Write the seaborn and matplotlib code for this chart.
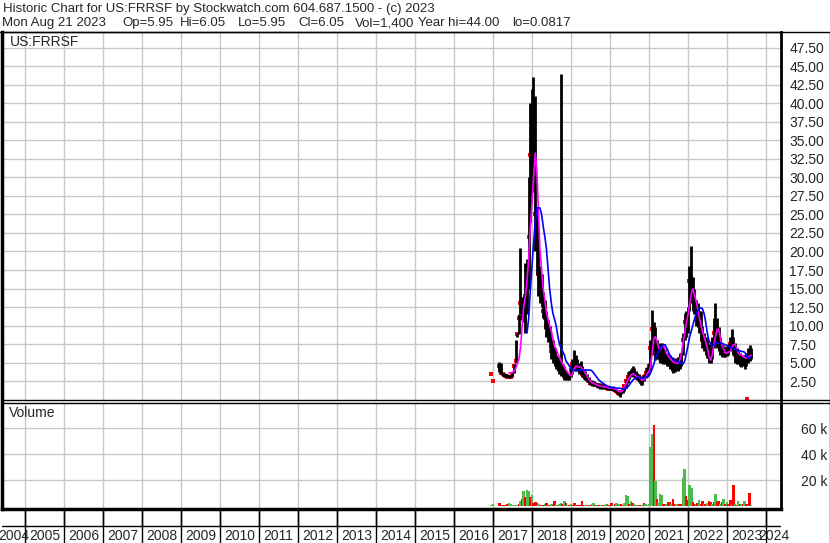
import numpy as np
import pandas as pd
import matplotlib.pyplot as plt
import seaborn as sns
from matplotlib.lines import Line2D

nan = np.nan

# semi-monthly sampling (1st and 15th), Dec 15 2016 .. Aug 15 2023
dates = pd.date_range("2016-12-15", "2023-08-15", freq="SMS")

high = ([3.4]
    + [2.5, nan, nan, nan, 5.1, 5.0, 3.6, 3.5, 3.4, 3.4, 3.3, 3.3, 3.6, 4.8, 8.0, 9.0, 11.6, 20.5, 13.8, 14.0, 18.5, 19.0, 30.0, 40.0]
    + [42.0, 43.6, 41.0, 26.0, 23.0, 18.0, 17.0, 14.5, 13.5, 12.0, 10.8, 10.0, 8.4, 8.0, 7.0, 6.0, 5.8, 5.5, 44.0, 4.8, 4.5, 3.8, 3.6, 3.5]
    + [4.5, 5.5, 6.7, 6.0, 5.5, 5.0, 5.2, 4.5, 4.1, 3.8, 3.5, 3.0, 2.6, 2.6, 2.5, 2.4, 2.3, 2.2, 2.2, 2.1, 2.0, 2.0, 1.9, 1.8]
    + [1.8, 1.7, 1.8, 1.6, 1.5, 1.3, 1.1, 1.2, 1.6, 2.0, 2.8, 3.3, 3.8, 4.2, 4.5, 4.3, 3.8, 3.6, 3.4, 3.2, 3.0, 3.5, 4.0, 4.4]
    + [5.0, 8.0, 12.1, 10.5, 9.8, 8.0, 7.5, 7.6, 7.6, 7.2, 6.8, 6.3, 6.3, 6.0, 5.8, 5.6, 5.6, 5.5, 5.8, 6.3, 6.3, 9.0, 11.7, 12.0]
    + [12.5, 18.0, 20.7, 16.6, 15.0, 13.5, 13.0, 12.0, 12.0, 10.0, 9.0, 8.5, 8.0, 7.5, 7.0, 8.5, 11.0, 13.0, 11.0, 9.8, 8.5, 7.5, 7.2, 7.0]
    + [7.2, 7.5, 8.5, 9.5, 8.5, 7.6, 7.0, 6.5, 6.3, 6.0, 6.0, 6.0, 6.3, 7.0, 7.4, 7.0])

low = ([3.4]
    + [2.5, nan, nan, nan, 3.7, 3.5, 3.2, 3.1, 3.0, 3.0, 2.9, 3.0, 3.0, 3.6, 5.0, 8.4, 8.8, 11.5, 10.7, 10.5, 9.0, 11.5, 15.0, 24.0]
    + [28.0, 30.0, 20.0, 17.0, 14.0, 13.0, 12.5, 11.0, 9.5, 8.5, 7.8, 7.0, 5.5, 5.0, 4.5, 4.2, 3.8, 3.5, 3.2, 3.0, 2.6, 2.6, 2.6, 2.6]
    + [3.1, 3.5, 3.8, 4.0, 3.8, 3.5, 3.4, 3.0, 2.8, 2.6, 2.4, 2.2, 2.0, 1.9, 1.8, 1.8, 1.7, 1.6, 1.5, 1.5, 1.5, 1.4, 1.4, 1.3]
    + [1.3, 1.3, 1.2, 1.1, 0.9, 0.6, 0.4, 0.7, 0.9, 1.2, 1.6, 2.2, 2.8, 3.0, 3.2, 3.0, 2.8, 2.6, 2.4, 2.0, 2.0, 2.5, 2.9, 3.1]
    + [3.5, 4.0, 6.0, 6.5, 5.3, 5.5, 5.3, 5.0, 5.0, 4.8, 4.8, 4.5, 4.5, 4.2, 3.8, 3.6, 3.7, 4.0, 3.8, 4.2, 4.5, 6.0, 8.0, 8.5]
    + [9.0, 12.0, 13.0, 12.0, 11.5, 10.0, 10.0, 9.0, 8.0, 7.0, 6.5, 6.0, 5.6, 5.0, 5.0, 5.5, 7.0, 8.0, 7.0, 6.5, 6.0, 5.8, 5.8, 5.8]
    + [5.9, 6.0, 6.5, 6.7, 6.0, 5.0, 4.8, 4.8, 4.5, 4.4, 4.5, 4.2, 4.5, 5.0, 5.2, 5.5])

close = ([3.4]
    + [2.5, nan, nan, nan, 4.6, 3.6, 3.4, 3.3, 3.2, 3.1, 3.0, 3.1, 3.3, 4.6, 5.2, 8.9, 11.0, 13.0, 12.0, 11.5, 14.0, 16.0, 22.0, 33.0]
    + [35.0, 38.0, 25.0, 21.0, 17.0, 15.0, 14.0, 12.0, 11.0, 10.0, 9.0, 8.0, 6.5, 6.0, 5.2, 5.0, 4.5, 4.2, 4.0, 3.8, 3.2, 3.0, 3.0, 3.1]
    + [4.0, 4.8, 5.0, 4.5, 4.4, 4.5, 4.2, 3.5, 3.2, 3.0, 2.8, 2.5, 2.3, 2.2, 2.1, 2.0, 2.0, 1.9, 1.8, 1.8, 1.7, 1.7, 1.6, 1.5]
    + [1.5, 1.5, 1.5, 1.3, 1.2, 0.9, 0.8, 1.0, 1.3, 1.8, 2.5, 3.0, 3.5, 3.6, 4.0, 3.5, 3.2, 3.0, 2.8, 2.4, 2.6, 3.0, 3.6, 4.0]
    + [4.5, 7.0, 9.5, 8.0, 7.0, 6.5, 6.2, 6.8, 7.0, 6.5, 5.8, 5.5, 5.2, 5.0, 4.6, 4.5, 4.8, 4.8, 4.6, 5.5, 5.8, 8.0, 10.5, 11.0]
    + [11.5, 16.0, 16.5, 14.0, 13.0, 12.0, 11.0, 10.0, 9.5, 8.0, 7.5, 7.0, 6.5, 5.8, 5.5, 7.5, 9.0, 10.0, 8.5, 7.5, 6.8, 6.3, 6.3, 6.4]
    + [6.5, 6.8, 7.5, 8.0, 7.0, 6.0, 5.8, 5.5, 5.3, 5.0, 5.2, 5.0, 5.5, 6.0, 6.2, 6.05])

# short moving average (magenta)
ma_short = ([nan]
    + [nan, nan, nan, nan, nan, nan, nan, nan, nan, nan, 3.6, 3.6, 3.7, 3.8, 4.2, 4.8, 5.5, 7.0, 10.0, 12.5, 14.0, 16.0, 19.0, 23.0]
    + [26.5, 30.0, 33.3, 31.0, 26.0, 20.5, 17.5, 15.0, 13.5, 11.8, 10.8, 10.0, 9.3, 8.2, 7.2, 6.8, 6.2, 5.7, 5.2, 4.8, 4.4, 4.0, 3.7, 3.4]
    + [3.2, 3.5, 4.2, 4.5, 4.5, 4.4, 4.4, 4.2, 3.9, 3.6, 3.2, 2.8, 2.5, 2.3, 2.2, 2.1, 2.0, 1.9, 1.8, 1.8, 1.75, 1.7, 1.7, 1.6]
    + [1.6, 1.55, 1.5, 1.45, 1.4, 1.2, 1.05, 1.05, 1.3, 1.7, 2.2, 2.6, 3.0, 3.3, 3.5, 3.4, 3.2, 3.1, 3.0, 2.8, 2.6, 2.7, 3.0, 3.5]
    + [3.8, 4.5, 6.5, 8.2, 8.5, 8.0, 7.0, 6.7, 7.2, 7.3, 6.8, 6.2, 5.9, 5.6, 5.3, 5.1, 5.0, 4.9, 4.9, 5.3, 6.2, 7.6, 9.0, 10.2]
    + [11.5, 12.8, 14.3, 15.0, 14.2, 13.5, 12.3, 11.2, 10.2, 9.3, 8.5, 7.8, 7.0, 6.0, 5.3, 6.0, 7.5, 8.5, 9.5, 9.5, 8.3, 7.3, 6.8, 6.3]
    + [6.3, 6.4, 6.6, 7.0, 7.4, 7.5, 7.0, 6.3, 6.1, 6.0, 5.8, 5.7, 5.6, 5.7, 5.9, 6.0])

# long moving average (blue)
ma_long = ([nan]
    + [nan] * 21 + [9.0, 11.0, 14.5]
    + [18.0, 21.0, 24.0, 25.9, 25.9, 25.9, 25.0, 23.5, 22.0, 20.5, 17.5, 15.0, 13.0, 11.7, 10.8, 10.0, 8.5, 7.5, 6.9, 6.5, 6.0, 5.2, 4.9, 4.6]
    + [4.2, 4.0, 4.0, 3.9, 3.9, 4.0, 4.0, 4.0, 4.0, 4.0, 4.0, 4.0, 4.0, 3.9, 3.6, 3.3, 3.0, 2.7, 2.5, 2.3, 2.2, 2.0, 1.9, 1.8]
    + [1.7, 1.65, 1.6, 1.6, 1.55, 1.55, 1.55, 1.5, 1.45, 1.4, 1.5, 1.7, 2.0, 2.3, 2.6, 2.8, 2.9, 3.0, 3.0, 2.9, 2.9, 3.0, 3.0, 3.1]
    + [3.2, 3.6, 4.2, 4.8, 5.5, 6.0, 6.5, 6.9, 7.2, 7.4, 7.4, 7.0, 6.5, 6.0, 5.7, 5.5, 5.3, 5.2, 5.1, 5.0, 4.9, 4.8, 5.2, 6.1]
    + [7.3, 8.4, 9.3, 10.0, 10.8, 11.5, 12.0, 12.3, 12.4, 12.3, 11.6, 10.5, 9.0, 8.0, 7.5, 7.3, 7.4, 7.6, 7.6, 7.6, 7.6, 7.6, 7.5, 7.4]
    + [7.3, 7.2, 7.1, 7.0, 6.9, 6.8, 6.7, 6.6, 6.6, 6.5, 6.5, 6.4, 6.0, 5.6, 5.7, 5.8])

# volume in thousands of shares, g = up day, r = down day
volume = ([1.0]
    + [1.5, 0.5, 0, 0, 2.5, 1.0, 0.8, 1.2, 0.8, 1.5, 2.5, 1.5, 1.0, 1.0, 1.2, 1.0, 2.0, 4.0, 6.0, 11.8, 7.4, 12.5, 12.0, 7.0]
    + [8.7, 2.3, 3.0, 2.3, 1.5, 1.0, 1.2, 0.8, 1.5, 2.3, 1.0, 0.8, 1.5, 1.0, 4.0, 1.2, 1.0, 1.8, 2.3, 1.5, 4.0, 2.3, 1.0, 1.0]
    + [1.5, 1.0, 2.5, 1.0, 0.8, 1.0, 1.0, 4.0, 1.0, 0.8, 1.0, 1.2, 1.0, 1.5, 2.5, 1.2, 1.0, 0.8, 0.8, 1.0, 0.8, 1.0, 1.5, 1.0]
    + [1.2, 2.5, 1.0, 1.5, 2.5, 1.2, 2.0, 1.5, 1.0, 2.3, 9.0, 8.0, 2.0, 4.0, 2.5, 2.0, 0.8, 1.0, 1.2, 0.8, 1.0, 2.5, 1.5, 1.0]
    + [2.0, 45.9, 55.6, 62.5, 19.5, 6.0, 2.5, 9.5, 8.7, 2.0, 1.5, 2.0, 3.5, 3.5, 1.5, 5.8, 2.0, 2.0, 1.5, 2.0, 1.5, 21.5, 28.7, 8.0]
    + [5.0, 16.4, 14.3, 3.0, 1.5, 2.0, 2.5, 4.8, 2.0, 4.0, 1.5, 1.5, 2.5, 4.0, 3.0, 1.5, 3.0, 9.5, 3.5, 4.5, 2.0, 3.0, 5.6, 2.0]
    + [3.0, 2.0, 4.8, 2.0, 16.4, 2.0, 1.0, 4.5, 2.0, 1.5, 2.0, 4.0, 2.0, 1.0, 10.3, 1.4])
vol_dir = ("g"
    + "ggggrrrrrrggggggrgrgrggr"
    + "grrrggrrgrgrgrrgrggrgrgr"
    + "grrgrrrrrgrgrggrgrrgrggr"
    + "rrgrgrgrrgggrgrgrgrrgrgg"
    + "gggrgrgggrrgrrgrrggrrggr"
    + "rggrrgrgrrgrgrrgrgrrgrgr"
    + "grrgrgrgrgrgrgrg")

# single bad print at the year low
odd_date = pd.to_datetime(["2023-07-10"])
odd_price = [0.0817]

years = list(range(2004, 2025))
price_ticks = [2.5 * i for i in range(1, 20)]
vol_ticks = [20, 40, 60]

header1 = "Historic Chart for US:FRRSF by Stockwatch.com 604.687.1500 - (c) 2023"
header2 = ["Mon Aug 21 2023", "Op=5.95", "Hi=6.05", "Lo=5.95", "Cl=6.05", "Vol=1,400", "Year hi=44.00", "lo=0.0817"]
header2_x = [2, 122, 180, 238, 298, 355, 418, 512]


def decimal_year(d):
    d = pd.DatetimeIndex(d)
    return d.year + (d.dayofyear - 1) / np.where(d.is_leap_year, 366, 365)


df = pd.DataFrame({"t": decimal_year(dates), "high": high, "low": low, "close": close,
                   "ma_short": ma_short, "ma_long": ma_long, "volume": volume,
                   "dir": list(vol_dir)})

sns.set_style("white")
plt.rcParams["font.family"] = ["Liberation Sans", "DejaVu Sans"]

W, H = 830, 543
fig = plt.figure(figsize=(W / 100, H / 100), dpi=100)
x0, x1 = 2004 + 16 / 39, 2024 + 15 / 39
grid_c = "#c8c8c8"

ax = fig.add_axes([2 / W, 143 / H, 779 / W, 368.5 / H])
axv = fig.add_axes([2 / W, 34 / H, 779 / W, 106 / H])
axl = fig.add_axes([2 / W, 0, 779 / W, 34 / H])

# ---- price panel
ax.set_xlim(x0, x1)
ax.set_ylim(-0.05, 49.7)
ax.set_axisbelow(True)
ax.set_xticks(years[1:])
ax.set_yticks(price_ticks)
ax.grid(True, color=grid_c, lw=1)
ax.yaxis.set_major_formatter("{x:.2f}")
ax.tick_params(left=False, labelleft=False, bottom=False, labelbottom=False,
               right=False, labelright=True, labelsize=10, pad=2.5)

ax.vlines(df["t"], df["low"], df["high"], color="black", lw=2.0)
sns.scatterplot(x=df["t"], y=df["close"], color="red", marker="s", s=8, linewidth=0, ax=ax)
sns.scatterplot(x=decimal_year(odd_date), y=odd_price, color="red", marker="s", s=6, linewidth=0, ax=ax)
sns.lineplot(x=df["t"], y=df["ma_short"], color="#ff00ff", lw=1.2, ax=ax)
sns.lineplot(x=df["t"], y=df["ma_long"], color="#0000ff", lw=1.2, ax=ax)
ax.set_xlabel("")
ax.set_ylabel("")
ax.text(8 / 779, 1 - 10 / 368.5, "US:FRRSF", transform=ax.transAxes, fontsize=10, va="center", ha="left")

# ---- volume panel
axv.set_xlim(x0, x1)
axv.set_ylim(-2, 79.5)
axv.set_axisbelow(True)
axv.set_xticks(years[1:])
axv.set_yticks(vol_ticks)
axv.grid(True, color=grid_c, lw=1)
axv.yaxis.set_major_formatter("{x:.0f} k")
axv.tick_params(left=False, labelleft=False, bottom=True, labelbottom=False,
                right=False, labelright=True, labelsize=10, pad=2.5,
                direction="out", length=12, width=1, color="black")
colors = df["dir"].map({"g": "#4cbb4c", "r": "#ff0000"})
axv.bar(df["t"], df["volume"], width=0.065, color=colors, linewidth=0)
axv.text(7 / 779, 1 - 10 / 106, "Volume", transform=axv.transAxes, fontsize=10, va="center", ha="left")

# ---- year label band
axl.set_xlim(x0, x1)
axl.set_ylim(0, 1)
axl.axis("off")
axl.vlines(years, 0, 1, color="black", lw=1)
axl.axhline(0.5, color="black", lw=1)
for y in years:
    a, b = max(y, x0), min(y + 1, x1)
    axl.text((a + b) / 2, 0.22, str(y), ha="center", va="center", fontsize=10)

for a in (ax, axv):
    for s in a.spines.values():
        s.set_color("black")
        s.set_linewidth(1)
    a.spines["left"].set_linewidth(2.5)
    a.spines["right"].set_linewidth(2)
axv.spines["bottom"].set_linewidth(2.5)

# header and frame
fig.text(3 / W, 1 - 9 / H, header1, fontsize=9.5, va="center")
for s, xp in zip(header2, header2_x):
    fig.text(xp / W, 1 - 23 / H, s, fontsize=9.5, va="center")
fig.add_artist(Line2D([0, 1], [1 - 31.5 / H] * 2, color="black", lw=1))
fig.add_artist(Line2D([781 / W, 1], [143 / H] * 2, color="black", lw=1))
fig.add_artist(Line2D([781 / W, 1], [140 / H] * 2, color="black", lw=1))
fig.add_artist(Line2D([829.5 / W] * 2, [0, 1 - 31.5 / H], color="black", lw=1))

fig.savefig("out.png", dpi=100)
